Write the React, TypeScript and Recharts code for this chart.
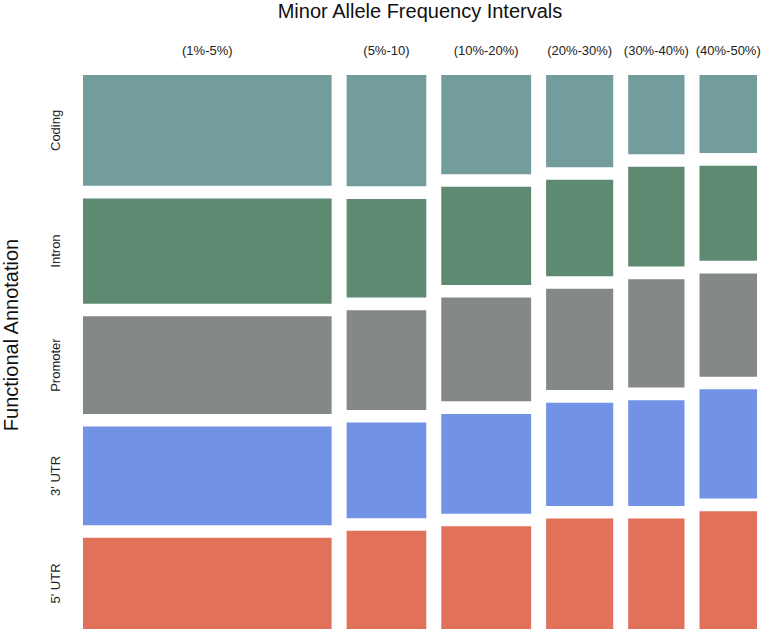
import React from 'react';
import { ScatterChart, Scatter, XAxis, YAxis, ReferenceArea } from 'recharts';

// MAF bins (column widths are relative counts)
const intervals = ['(1%-5%)', '(5%-10)', '(10%-20%)', '(20%-30%)', '(30%-40%)', '(40%-50%)'];
const intervalCounts = [41.5, 13.3, 15.0, 11.2, 9.4, 9.6];

// share of each annotation inside every MAF bin (%)
const annotations = ['Coding', 'Intron', 'Promoter', "3' UTR", "5' UTR"];
const coding = [22.0, 22.1, 19.7, 18.3, 15.7, 15.5];
const intron = [20.9, 19.6, 19.5, 19.1, 19.8, 18.9];
const promoter = [19.4, 19.8, 20.6, 20.1, 21.5, 20.5];
const utr3 = [19.6, 19.0, 19.8, 20.5, 21.0, 21.7];
const utr5 = [18.1, 19.5, 20.4, 21.9, 21.9, 23.4];

const colors = ['#739c9d', '#5e8a72', '#848988', '#7292e6', '#e2715a'];

const FONT = '"Liberation Sans", Arial, Helvetica, sans-serif';
const GAP = 0.025;

const series = [coding, intron, promoter, utr3, utr5];
const totalCount = intervalCounts.reduce((a, b) => a + b, 0);
const xMax = 1 + GAP * (intervals.length - 1);
const yMax = 1 + GAP * (annotations.length - 1);

interface Tile {
  key: string;
  x1: number;
  x2: number;
  y1: number;
  y2: number;
  cx: number;
  cy: number;
  fill: string;
}

const tiles: Tile[] = [];
const colCenters: number[] = [];
const firstColCenters: number[] = [];

let xPos = 0;
intervals.forEach((iv, i) => {
  const w = intervalCounts[i] / totalCount;
  colCenters.push(xPos + w / 2);
  const colSum = series.reduce((a, s) => a + s[i], 0);
  let yPos = 0;
  series.forEach((s, k) => {
    const h = s[i] / colSum;
    tiles.push({
      key: iv + k,
      x1: xPos,
      x2: xPos + w,
      y1: yPos,
      y2: yPos + h,
      cx: xPos + w / 2,
      cy: yPos + h / 2,
      fill: colors[k]
    });
    if (i === 0) firstColCenters.push(yPos + h / 2);
    yPos += h + GAP;
  });
  xPos += w + GAP;
});

const TopTick = (props: any) => {
  const idx = colCenters.findIndex(c => Math.abs(c - props.payload.value) < 1e-9);
  return (
    <text x={props.x} y={55} textAnchor="middle" fontSize={13} fontFamily={FONT} fill="#222">
      {intervals[idx]}
    </text>
  );
};

const LeftTick = (props: any) => {
  const idx = firstColCenters.findIndex(c => Math.abs(c - props.payload.value) < 1e-9);
  return (
    <text
      x={60.5}
      y={props.y}
      transform={`rotate(-90, 60.5, ${props.y})`}
      textAnchor="middle"
      fontSize={13}
      fontFamily={FONT}
      fill="#222"
    >
      {annotations[idx]}
    </text>
  );
};

export default function App() {
  return (
    <div style={{ position: 'absolute', left: 0, top: 0, width: 762, height: 631, background: '#fff' }}>
      <ScatterChart width={762} height={631} margin={{ top: 0, right: 5, bottom: 2, left: 0 }}>
        <XAxis
          xAxisId="maf"
          dataKey="cx"
          type="number"
          orientation="top"
          domain={[0, xMax]}
          ticks={colCenters}
          interval={0}
          tick={<TopTick />}
          axisLine={false}
          tickLine={false}
          height={75}
          allowDataOverflow
          label={{
            content: (p: any) => (
              <text
                x={p.viewBox.x + p.viewBox.width / 2}
                y={17.5}
                textAnchor="middle"
                fontSize={20}
                fontFamily={FONT}
                fill="#111"
              >
                Minor Allele Frequency Intervals
              </text>
            )
          }}
        />
        <YAxis
          yAxisId="ann"
          dataKey="cy"
          type="number"
          reversed
          domain={[0, yMax]}
          ticks={firstColCenters}
          interval={0}
          tick={<LeftTick />}
          axisLine={false}
          tickLine={false}
          width={83}
          allowDataOverflow
          label={{
            content: () => (
              <text
                x={18}
                y={335}
                transform="rotate(-90, 18, 335)"
                textAnchor="middle"
                fontSize={20}
                fontFamily={FONT}
                fill="#111"
              >
                Functional Annotation
              </text>
            )
          }}
        />
        {tiles.map(t => (
          <ReferenceArea
            key={t.key}
            xAxisId="maf"
            yAxisId="ann"
            x1={t.x1}
            x2={t.x2}
            y1={t.y1}
            y2={t.y2}
            fill={t.fill}
            fillOpacity={1}
            stroke="none"
            ifOverflow="visible"
          />
        ))}
        <Scatter
          xAxisId="maf"
          yAxisId="ann"
          data={tiles}
          shape={() => <g />}
          isAnimationActive={false}
        />
      </ScatterChart>
    </div>
  );
}
